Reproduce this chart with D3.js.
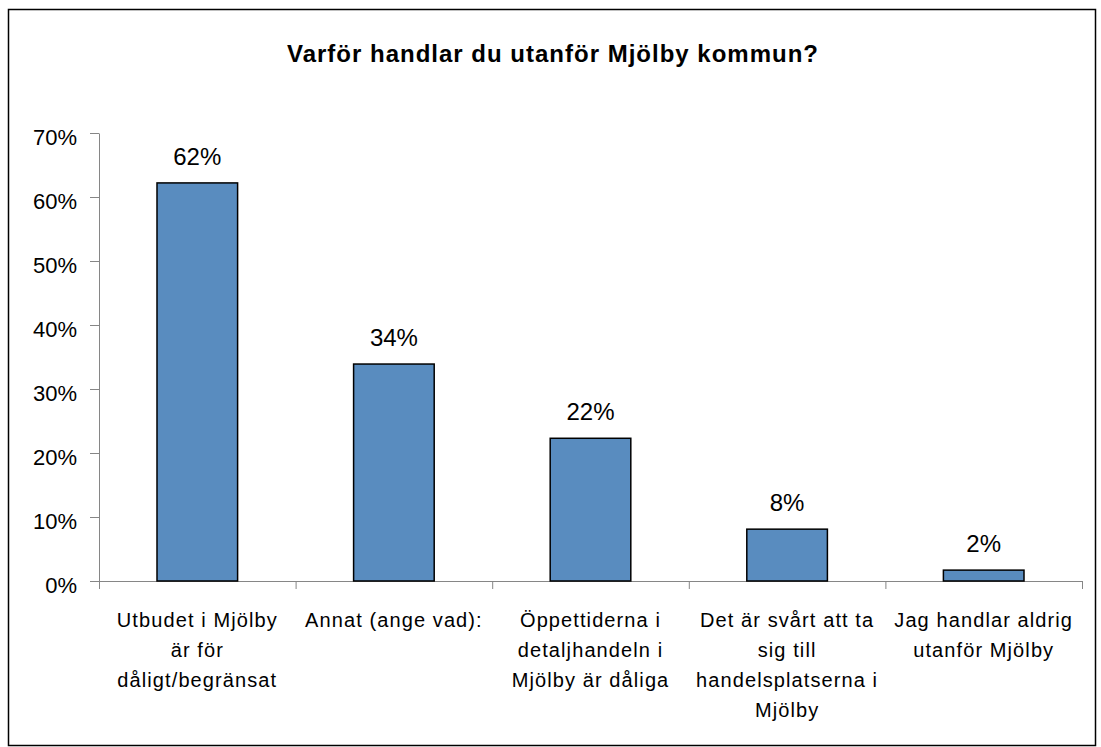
<!DOCTYPE html>
<html>
<head>
<meta charset="utf-8">
<script src="https://cdn.jsdelivr.net/npm/d3@7"></script>
<style>
  body { margin: 0; background: white; }
  text { font-family: "Liberation Sans", Arial, sans-serif; fill: black; }
</style>
</head>
<body>
<div id="chart"></div>
<script>
// Data
const title = "Varför handlar du utanför Mjölby kommun?";
const categories = [
  "Utbudet i Mjölby är för dåligt/begränsat",
  "Annat (ange vad):",
  "Öppettiderna i detaljhandeln i Mjölby är dåliga",
  "Det är svårt att ta sig till handelsplatserna i Mjölby",
  "Jag handlar aldrig utanför Mjölby"
];
// how each label breaks into lines
const categoryLines = [
  ["Utbudet i Mjölby", "är för", "dåligt/begränsat"],
  ["Annat (ange vad):"],
  ["Öppettiderna i", "detaljhandeln i", "Mjölby är dåliga"],
  ["Det är svårt att ta", "sig till", "handelsplatserna i", "Mjölby"],
  ["Jag handlar aldrig", "utanför Mjölby"]
];
const values = [0.622, 0.339, 0.223, 0.081, 0.017];
const yTicks = [0, 0.1, 0.2, 0.3, 0.4, 0.5, 0.6, 0.7];

let width = 1101, height = 747;
let margin = { top: 133, bottom: 166, left: 99, right: 19 };

let svg = d3.select('#chart')
            .append('svg')
            .attr('width', width)
            .attr('height', height);

// outer frame
svg.append('rect')
    .attr('x', 8.5)
    .attr('y', 9.5)
    .attr('width', 1087)
    .attr('height', 736)
    .attr('fill', 'white')
    .attr('stroke', 'black')
    .attr('stroke-width', 1.5);

// title
svg.append('text')
    .attr('x', 553)
    .attr('y', 62)
    .attr('text-anchor', 'middle')
    .style('font-size', '24px')
    .style('font-weight', 'bold')
    .style('letter-spacing', '1px')
    .text(title);

// scales
let yScale = d3.scaleLinear()
               .domain([0, 0.7])
               .range([height - margin.bottom, margin.top]);

let xScale = d3.scaleBand()
               .domain(categories)
               .range([margin.left, width - margin.right])
               .padding(0);

// category boundaries for the x ticks
let xEdges = d3.scaleLinear()
               .domain([0, categories.length])
               .range([margin.left, width - margin.right]);

const axisColor = '#868686';

// y axis
let yAxis = svg.append('g')
    .attr('transform', `translate(${margin.left},0)`)
    .call(d3.axisLeft(yScale)
            .tickValues(yTicks)
            .tickFormat(d3.format('.0%'))
            .tickSize(9)
            .tickSizeOuter(0)
            .tickPadding(13));
yAxis.selectAll('path, line').attr('stroke', axisColor);
yAxis.selectAll('text')
    .style('font-size', '22px')
    .attr('dy', '0.5em');

// x axis, ticks between categories
let xAxis = svg.append('g')
    .attr('transform', `translate(0,${height - margin.bottom})`)
    .call(d3.axisBottom(xEdges)
            .tickValues(d3.range(categories.length + 1))
            .tickFormat('')
            .tickSize(8)
            .tickSizeOuter(0));
xAxis.selectAll('path, line').attr('stroke', axisColor);

// bars
const barWidth = xScale.bandwidth() * 0.41;

svg.selectAll('.bar')
    .data(values)
    .enter()
    .append('rect')
    .attr('class', 'bar')
    .attr('x', (d, i) => xScale(categories[i]) + (xScale.bandwidth() - barWidth) / 2)
    .attr('y', d => yScale(d))
    .attr('width', barWidth)
    .attr('height', d => yScale(0) - yScale(d))
    .attr('fill', '#598cbf')
    .attr('stroke', 'black')
    .attr('stroke-width', 1.5);

// value labels
svg.selectAll('.value')
    .data(values)
    .enter()
    .append('text')
    .attr('class', 'value')
    .attr('x', (d, i) => xScale(categories[i]) + xScale.bandwidth() / 2)
    .attr('y', d => yScale(d) - 18)
    .attr('text-anchor', 'middle')
    .style('font-size', '24px')
    .text(d => d3.format('.0%')(d));

// category labels
categoryLines.forEach((lines, i) => {
  let cx = xScale(categories[i]) + xScale.bandwidth() / 2;
  let t = svg.append('text')
      .attr('text-anchor', 'middle')
      .style('font-size', '20px')
      .style('letter-spacing', '1.1px');
  lines.forEach((line, j) => {
    t.append('tspan')
        .attr('x', cx)
        .attr('y', yScale(0) + 46 + j * 30)
        .text(line);
  });
});
</script>
</body>
</html>
